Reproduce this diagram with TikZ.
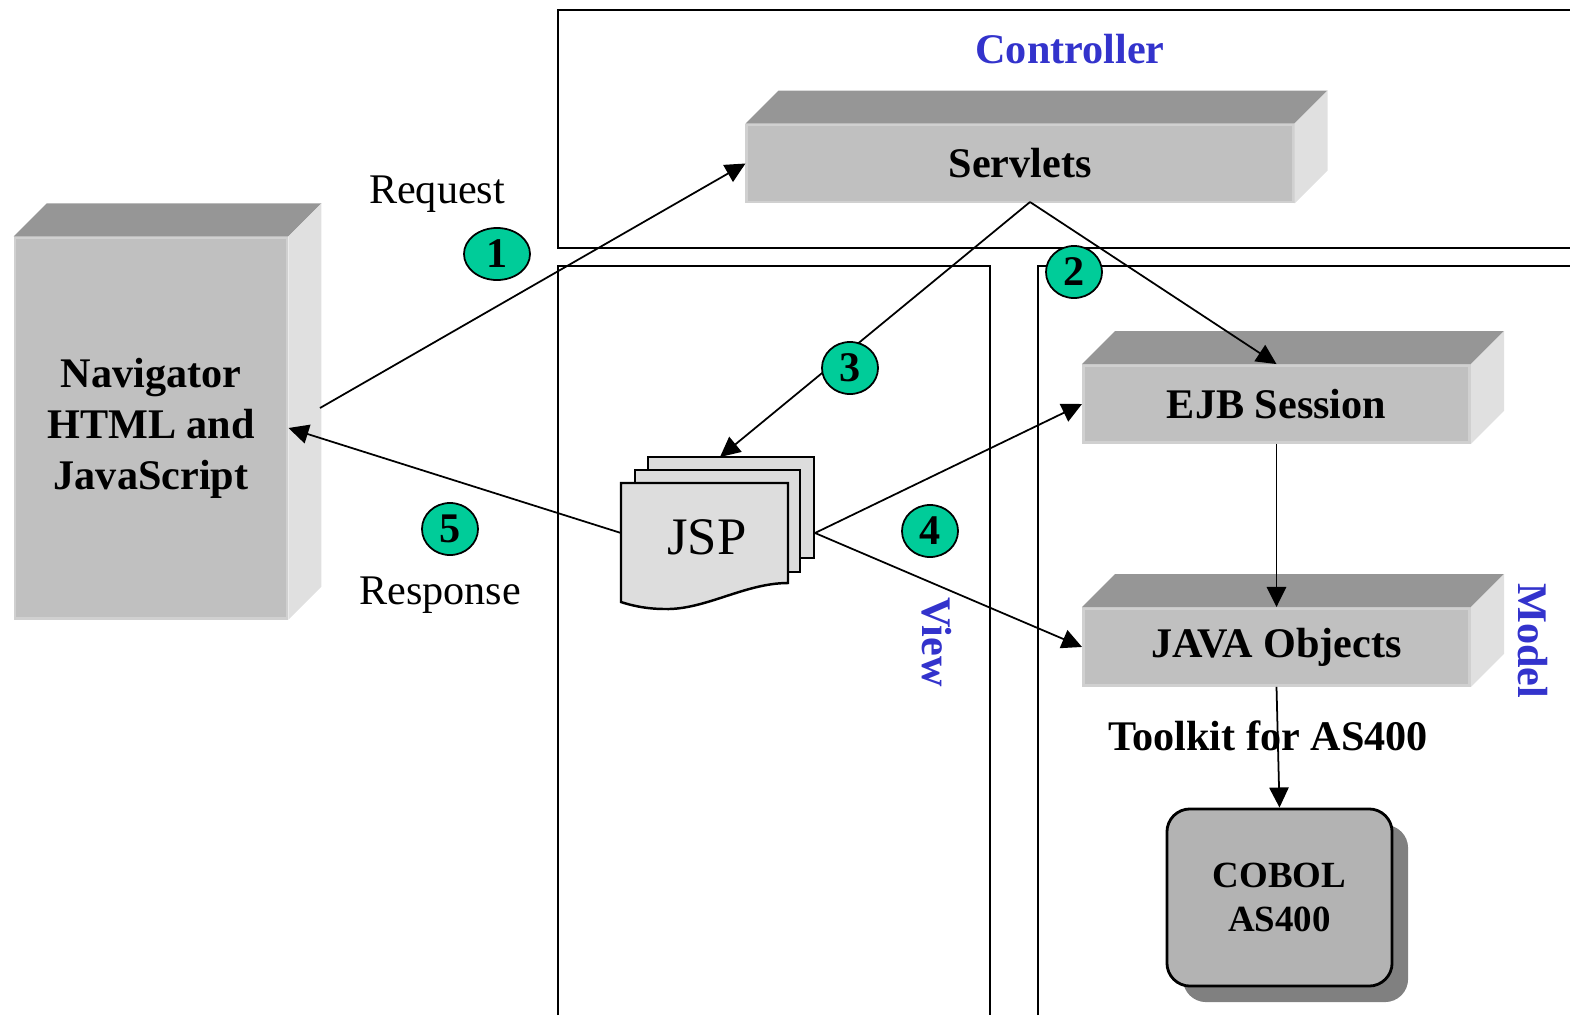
\documentclass[tikz,border=0pt]{standalone}
\usepackage{fontspec}
\setmainfont{Liberation Serif}
\usetikzlibrary{positioning}
\usetikzlibrary{arrows.meta}
\usetikzlibrary{shapes.geometric}
\usetikzlibrary{calc}
\usetikzlibrary{shadows}

\definecolor{frontgray}{RGB}{192,192,192}
\definecolor{topgray}{RGB}{150,150,150}
\definecolor{sidegray}{RGB}{224,224,224}
\definecolor{edgegray}{RGB}{208,208,208}
\definecolor{pagegray}{RGB}{221,221,221}
\definecolor{cobolgray}{RGB}{179,179,179}
\definecolor{stepgreen}{RGB}{0,204,153}
\definecolor{labblue}{RGB}{51,51,204}

\begin{document}
\begin{tikzpicture}[x=0.01cm,y=-0.01cm,
  blockfront/.style={fill=frontgray,draw=edgegray,line width=0.8pt,inner sep=0pt,font=\labfont},
  stepnum/.style={ellipse,draw=black,line width=0.5pt,fill=stepgreen,minimum width=0.56cm,minimum height=0.52cm,inner sep=0pt,font=\bfseries\fontsize{12}{12}\selectfont},
  flow/.style={line width=0.5pt,-{Triangle[length=5.7pt,width=5.5pt]}},
  frame/.style={line width=0.6pt},
  page/.style={fill=pagegray,draw=black,line width=0.7pt,inner sep=0pt},
  layer/.style={font=\bfseries\fontsize{12}{12}\selectfont,text=labblue},
  cobolbox/.style={rounded corners=0.23cm,fill=cobolgray,draw=black,line width=0.8pt,minimum width=2.25cm,minimum height=1.77cm,align=center,font=\bfseries\fontsize{10.5}{12.5}\selectfont,drop shadow={shadow xshift=0.16cm,shadow yshift=-0.16cm,fill=black!50,opacity=1}}]

\useasboundingbox (0,0) rectangle (1570,1015);

\def\labfont{\bfseries\fontsize{12}{14.5}\selectfont}
\def\depth{33}

% tiers
\draw[frame] (1570,10) -- (558,10) -- (558,248) -- (1570,248);
\draw[frame] (558,1015) -- (558,266) -- (990,266) -- (990,1015);
\draw[frame] (1038,1015) -- (1038,266) -- (1570,266);

\node[layer] (controller) at (1070,49) {Controller};
\node[layer,rotate=-90] (view) at (937,642) {View};
\node[layer,rotate=-90] (model) at (1533,641) {Model};

% 3d blocks
\node[blockfront,minimum width=2.72cm,minimum height=3.8cm,align=center] (nav) at (151,428) {Navigator\\HTML and\\JavaScript};
\node[blockfront,minimum width=5.46cm,minimum height=0.77cm] (servlets) at (1020,163.5) {Servlets};
\node[blockfront,minimum width=3.86cm,minimum height=0.77cm] (ejb) at (1276.5,404) {EJB Session};
\node[blockfront,minimum width=3.86cm,minimum height=0.77cm,below=1.63cm of ejb] (java) {JAVA Objects};

\foreach \b in {nav,servlets,ejb,java} {
  \fill[topgray] (\b.north west) -- ++(\depth,-\depth) -- ($(\b.north east)+(\depth,-\depth)$) -- (\b.north east) -- cycle;
  \fill[sidegray] (\b.north east) -- ++(\depth,-\depth) -- ($(\b.south east)+(\depth,-\depth)$) -- (\b.south east) -- cycle;
}

\node[font=\labfont] (toolkit) at (1268,736) {Toolkit for AS400};

\node[cobolbox] (cobol) at (1279.5,897.5) {COBOL\\AS400};

% jsp pages
\node[page,minimum width=1.66cm,minimum height=1.01cm] (jspback) at (731,507.5) {};
\node[page,minimum width=1.65cm,minimum height=1.02cm] (jspmid) at (717.5,521) {};
\draw[page] (621,483) -- (788,483) -- (788,583) .. controls (745,583) and (705,610) .. (665,609) .. controls (645,609) and (630,605) .. (621,602) -- cycle;
\node[font=\fontsize{15}{15}\selectfont] (jsp) at (707,537) {JSP};

\coordinate (navout) at (320,408);
\coordinate (split) at (1030,202);
\coordinate (jspin) at (720,457);
\coordinate (jspout) at (815,533);
\coordinate (jspleft) at (621,533);

\draw[flow] (navout) -- (servlets.west);
\draw[flow] (split) -- (ejb.north);
\draw[flow] (split) -- (jspin);
\draw[flow] (jspout) -- (ejb.west);
\draw[flow] (jspout) -- (java.west);
\draw[flow] (jspleft) -- (nav.east);
\draw[flow] (ejb.south) -- (java.north);
\draw[flow] (java.south) -- (cobol.north);

% steps
\node[stepnum,minimum width=0.66cm] (s1) at (497,254) {1};
\node[stepnum] (s2) at (1074,272) {2};
\node[stepnum] (s3) at (850,368) {3};
\node[stepnum] (s4) at (930,531) {4};
\node[stepnum] (s5) at (450,529) {5};

\node[font=\fontsize{12}{12}\selectfont] (request) at (437,194) {Request};
\node[font=\fontsize{12}{12}\selectfont] (response) at (440,595) {Response};
\end{tikzpicture}
\end{document}
